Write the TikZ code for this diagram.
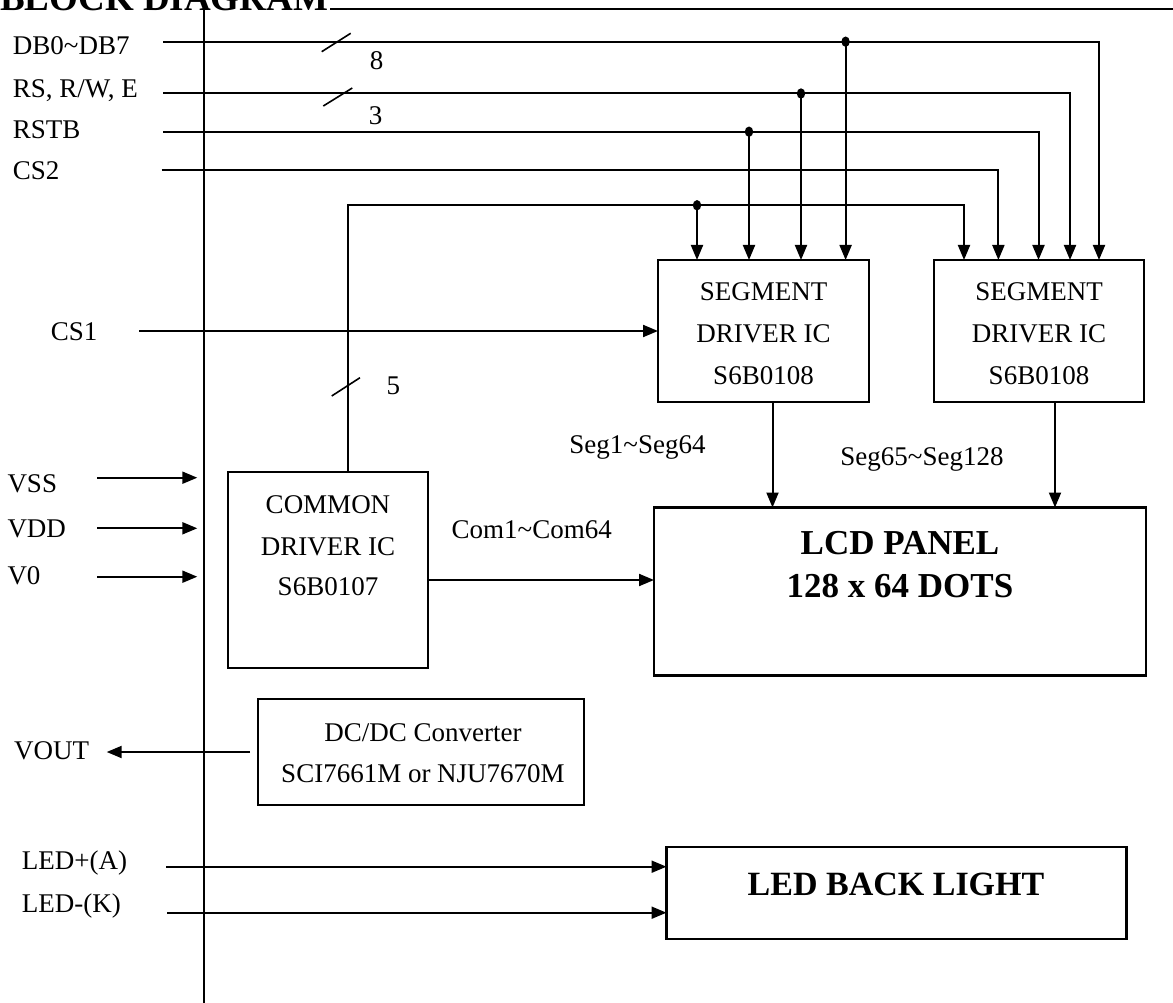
\documentclass[tikz,border=0pt]{standalone}
\usepackage{fontspec}
\setmainfont{Liberation Serif}
\usetikzlibrary{arrows.meta}
\begin{document}
\begin{tikzpicture}[x=1pt,y=-1pt,
  wire/.style={line width=2pt},
  arr/.style={line width=2pt,-{Triangle[length=15pt,width=12pt]}},
  box/.style={draw,line width=2.2pt,inner sep=0pt,outer sep=0pt,anchor=north west},
  txt/.style={inner sep=0pt,font=\fontsize{27}{32}\selectfont},
  boldtxt/.style={inner sep=0pt,font=\bfseries\fontsize{35}{40}\selectfont},
  tick/.style={line width=1.6pt},
  jdot/.style={fill=black}]
\useasboundingbox (0,0) rectangle (1173,1003);
\fill[white] (0,0) rectangle (1173,1003);
\clip (0,0) rectangle (1173,1003);

% title and frame lines
\node[inner sep=0pt,anchor=base west,font=\bfseries\fontsize{37}{40}\selectfont] (title) at (0,11) {BLOCK DIAGRAM};
\coordinate (ftopA) at (330,9.5);
\coordinate (ftopB) at (1173,9.5);
\draw[wire] (ftopA) -- (ftopB);
\coordinate (vtop) at (204,0);
\coordinate (vbot) at (204,1003);
\draw[wire] (vtop) -- (vbot);

% boxes
\node[box,minimum width=211pt,minimum height=142pt] (seg1) at (658,260) {};
\node[box,minimum width=210pt,minimum height=142pt] (seg2) at (934,260) {};
\node[box,minimum width=200pt,minimum height=196pt] (com) at (228,472) {};
\node[box,minimum width=492pt,minimum height=168pt] (lcd) at (654,507.5) {};
\node[box,minimum width=326pt,minimum height=106pt] (dc) at (258,699) {};
\node[box,minimum width=460pt,minimum height=92pt] (led) at (666.5,847.3) {};

% box texts
\node[txt,anchor=base] (s1a) at (763.5,300.7) {SEGMENT};
\node[txt,anchor=base] (s1b) at (763.5,342) {DRIVER IC};
\node[txt,anchor=base] (s1c) at (763.5,384) {S6B0108};
\node[txt,anchor=base] (s2a) at (1039,300.7) {SEGMENT};
\node[txt,anchor=base] (s2b) at (1039,342) {DRIVER IC};
\node[txt,anchor=base] (s2c) at (1039,384) {S6B0108};
\node[txt,anchor=base] (ca) at (328,513) {COMMON};
\node[txt,anchor=base] (cb) at (328,555) {DRIVER IC};
\node[txt,anchor=base] (cc) at (328,595.7) {S6B0107};
\node[txt,anchor=base] (da) at (423,741.7) {DC/DC Converter};
\node[txt,anchor=base] (db) at (423,782.3) {SCI7661M or NJU7670M};
\node[boldtxt,anchor=base] (la) at (900,554) {LCD PANEL};
\node[boldtxt,anchor=base] (lb) at (900,597.5) {128 x 64 DOTS};
\node[boldtxt,anchor=base,font=\bfseries\fontsize{34}{40}\selectfont] (lt) at (896,895) {LED BACK LIGHT};

% left labels
\node[txt,anchor=base west] (ldb) at (12.7,55) {DB0\textasciitilde DB7};
\node[txt,anchor=base west] (lrs) at (12.7,98) {RS, R/W, E};
\node[txt,anchor=base west] (lrst) at (12.7,138.3) {RSTB};
\node[txt,anchor=base west] (lcs2) at (12.7,180) {CS2};
\node[txt,anchor=base west] (lcs1) at (50.7,340) {CS1};
\node[txt,anchor=base west] (lvss) at (7.3,492.7) {VSS};
\node[txt,anchor=base west] (lvdd) at (7.3,537.7) {VDD};
\node[txt,anchor=base west] (lv0) at (7.3,584.3) {V0};
\node[txt,anchor=base west] (lvout) at (14,759) {VOUT};
\node[txt,anchor=base west] (lledp) at (21.7,869) {LED+(A)};
\node[txt,anchor=base west] (lledm) at (21.7,912.7) {LED-(K)};

% bus width labels
\node[txt,anchor=base] (n8) at (376.7,70) {8};
\node[txt,anchor=base] (n3) at (375.7,125) {3};
\node[txt,anchor=base] (n5) at (393.3,394.3) {5};
\node[txt,anchor=base] (lseg1) at (637.5,453) {Seg1\textasciitilde Seg64};
\node[txt,anchor=base] (lseg2) at (922,465) {Seg65\textasciitilde Seg128};
\node[txt,anchor=base] (lcom) at (531.7,538) {Com1\textasciitilde Com64};

% bus lines from the left
\coordinate (dbS) at (163,41.7);
\coordinate (rsS) at (163,93.5);
\coordinate (rstS) at (163,131.7);
\coordinate (cs2S) at (161.7,170);
\draw[arr] (dbS) -| ([xshift=60pt]seg2.north);
\draw[arr] (rsS) -| ([xshift=31pt]seg2.north);
\draw[arr] (rstS) -| ([xshift=-0.5pt]seg2.north);
\draw[arr] (cs2S) -| ([xshift=-40.6pt]seg2.north);

% common bus
\coordinate (cbus) at (348.3,205.3);
\draw[arr] ([xshift=20.3pt]com.north) -- (cbus) -| ([xshift=-75pt]seg2.north);

% junctions to segment 1
\coordinate (j1) at (845.6,41.7);
\coordinate (j2) at (801,93.5);
\coordinate (j3) at (749,131.7);
\coordinate (j4) at (697,205.3);
\foreach \j in {j1,j2,j3,j4}{
  \draw[arr] (\j) -- (\j |- seg1.north);
  \fill[jdot] (\j) ellipse [x radius=4.2pt,y radius=5.2pt];
}

% bus ticks
\draw[tick] (321.7,51.7) -- (350.7,33.3);
\draw[tick] (323.3,106) -- (352.3,88);
\draw[tick] (331.7,396) -- (360,377.7);

% CS1
\coordinate (cs1S) at (139.3,331);
\draw[arr] (cs1S) -- (seg1.west);

% power inputs
\coordinate (vssA) at (97.3,477.7);
\coordinate (vssB) at (197.3,477.7);
\coordinate (vddA) at (97.3,528.3);
\coordinate (vddB) at (197.3,528.3);
\coordinate (v0A) at (97.3,576.7);
\coordinate (v0B) at (197.3,576.7);
\draw[arr] (vssA) -- (vssB);
\draw[arr] (vddA) -- (vddB);
\draw[arr] (v0A) -- (v0B);

% outputs to LCD
\draw[arr] ([yshift=-10pt]com.east) -- ([yshift=-10pt]com.east -| lcd.west);
\draw[arr] ([xshift=9pt]seg1.south) -- ([xshift=9pt]seg1.south |- lcd.north);
\draw[arr] ([xshift=16pt]seg2.south) -- ([xshift=16pt]seg2.south |- lcd.north);

% VOUT
\coordinate (voutT) at (106.7,752);
\draw[arr] ([xshift=-8pt]dc.west) -- (voutT);

% LED
\coordinate (ledpS) at (166,866.7);
\coordinate (ledmS) at (167,912.7);
\draw[arr] (ledpS) -- (ledpS -| led.west);
\draw[arr] (ledmS) -- (ledmS -| led.west);
\end{tikzpicture}
\end{document}
